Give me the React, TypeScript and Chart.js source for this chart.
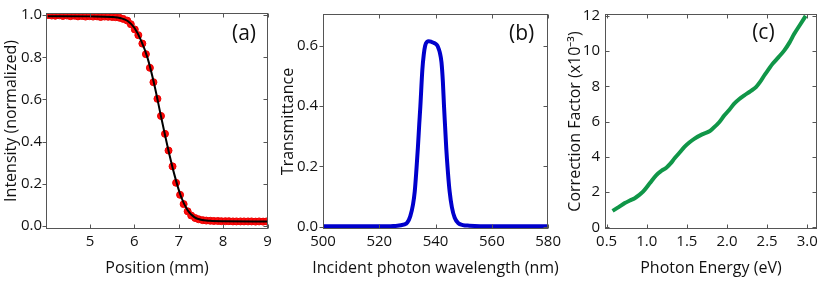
import React, { useEffect, useRef } from 'react';
import { Chart, registerables } from 'chart.js';

Chart.register(...registerables);

// ---------- Panel (a) ----------
const positionMm = [
  4.05, 4.14, 4.22, 4.31, 4.39, 4.48, 4.56, 4.65, 4.73, 4.82, 4.9, 4.99, 5.07, 5.16, 5.24, 5.33,
  5.41, 5.5, 5.58, 5.67, 5.75, 5.84, 5.92, 6.01, 6.09, 6.18, 6.26, 6.35, 6.43, 6.52, 6.6, 6.69,
  6.77, 6.86, 6.94, 7.03, 7.11, 7.2, 7.28, 7.37, 7.45, 7.54, 7.62, 7.71, 7.79, 7.88, 7.96, 8.05,
  8.13, 8.22, 8.3, 8.39, 8.47, 8.56, 8.64, 8.73, 8.81, 8.9, 8.98,
];
const intensity = [
  1.0, 0.998, 0.997, 0.999, 0.996, 0.998, 0.995, 0.997, 0.994, 0.996, 0.993, 0.995, 0.993, 0.994,
  0.991, 0.993, 0.992, 0.991, 0.99, 0.987, 0.982, 0.974, 0.957, 0.932, 0.905, 0.865, 0.815, 0.75,
  0.682, 0.603, 0.522, 0.437, 0.358, 0.283, 0.205, 0.148, 0.104, 0.07, 0.05, 0.038, 0.032, 0.028,
  0.026, 0.025, 0.024, 0.024, 0.023, 0.023, 0.023, 0.022, 0.022, 0.022, 0.022, 0.022, 0.022,
  0.021, 0.022, 0.021, 0.022,
];
const fitPosition = [4.05, 5.0, 5.5, 5.7, 5.85, 6.0, 6.15, 6.3, 6.45, 6.6, 6.75, 6.9, 7.05, 7.2, 7.35, 7.5, 7.7, 8.0, 9.0];
const fitIntensity = [0.995, 0.994, 0.991, 0.985, 0.972, 0.94, 0.88, 0.795, 0.67, 0.52, 0.375, 0.245, 0.14, 0.075, 0.042, 0.03, 0.025, 0.023, 0.022];
const positionTicks = [5, 6, 7, 8, 9];
const intensityTicks = [0, 0.2, 0.4, 0.6, 0.8, 1.0];

// ---------- Panel (b) ----------
const wavelengthNm = [
  500, 510, 520, 525, 529, 530, 531, 532, 532.6, 533.2, 533.7, 534.2, 534.6, 535.3, 535.8, 536.3,
  537, 537.6, 538.5, 539.5, 540.4, 540.9, 541.5, 542.1, 542.6, 543.0, 543.4, 543.8, 544.4, 545.0,
  545.8, 546.8, 548, 549.7, 552, 560, 570, 580,
];
const transmittance = [
  0.002, 0.002, 0.002, 0.003, 0.008, 0.015, 0.035, 0.075, 0.117, 0.19, 0.26, 0.34, 0.4, 0.52, 0.57,
  0.6, 0.613, 0.615, 0.613, 0.609, 0.603, 0.595, 0.578, 0.545, 0.48, 0.4, 0.33, 0.26, 0.18, 0.117,
  0.065, 0.03, 0.013, 0.006, 0.004, 0.002, 0.002, 0.002,
];
const wavelengthTicks = [500, 520, 540, 560, 580];
const transmittanceTicks = [0, 0.2, 0.4, 0.6];

// ---------- Panel (c) ----------
const photonEnergy = [
  0.574, 0.65, 0.727, 0.79, 0.851, 0.9, 0.954, 1.037, 1.12, 1.18, 1.244, 1.3, 1.347, 1.41, 1.47,
  1.53, 1.596, 1.69, 1.782, 1.823, 1.9, 1.968, 2.03, 2.09, 2.15, 2.216, 2.29, 2.361, 2.41, 2.464,
  2.52, 2.567, 2.64, 2.712, 2.78, 2.836, 2.91, 2.98,
];
const correctionFactor = [
  0.94, 1.15, 1.38, 1.53, 1.66, 1.82, 2.03, 2.5, 2.97, 3.2, 3.39, 3.65, 3.92, 4.25, 4.57, 4.82,
  5.04, 5.28, 5.46, 5.61, 5.95, 6.36, 6.68, 7.02, 7.27, 7.49, 7.72, 7.96, 8.24, 8.62, 8.98, 9.28,
  9.65, 10.03, 10.5, 10.97, 11.5, 12.0,
];
const energyTicks = [0.5, 1.0, 1.5, 2.0, 2.5, 3.0];
const correctionTicks = [0, 2, 4, 6, 8, 10, 12];

const FONT = '"Open Sans", sans-serif';
const TEXT = '#111111';
const AXIS = '#555555';
const H = 282;

type PanelCfg = {
  left: number;
  width: number;
  plotLeft: number;
  plotRight: number;
  plotTop: number;
  plotBottom: number;
  xMin: number; xMax: number; yMin: number; yMax: number;
  xTicks: number[]; yTicks: number[];
  xFmt: (v: number) => string; yFmt: (v: number) => string;
  xTitle: string; yTitle: string;
  yTitlePad: number; yLabelPad: number;
  leftTickOut: boolean;
  label: string; labelDx: number; labelDy: number;
  datasets: any[];
};

const pts = (xs: number[], ys: number[]) => xs.map((x, i) => ({ x, y: ys[i] }));

function framePlugin(cfg: PanelCfg) {
  return {
    id: 'frame',
    afterDraw(chart: any) {
      const { ctx, chartArea: a, scales } = chart;
      const xs = scales.x, ys = scales.y;
      const L = Math.round(a.left) + 0.5, R = Math.round(a.right) - 0.5;
      const T = Math.round(a.top) + 0.5, B = Math.round(a.bottom) - 0.5;
      ctx.save();
      ctx.strokeStyle = AXIS;
      ctx.lineWidth = 1;
      ctx.strokeRect(L, T, R - L, B - T);
      ctx.beginPath();
      for (const v of cfg.xTicks) {
        const px = Math.round(xs.getPixelForValue(v)) + 0.5;
        ctx.moveTo(px, B); ctx.lineTo(px, B - 4);
        ctx.moveTo(px, T); ctx.lineTo(px, T + 4);
      }
      for (const v of cfg.yTicks) {
        const py = Math.round(ys.getPixelForValue(v)) + 0.5;
        if (cfg.leftTickOut) { ctx.moveTo(L - 4, py); ctx.lineTo(L, py); }
        else { ctx.moveTo(L, py); ctx.lineTo(L + 4, py); }
        ctx.moveTo(R, py); ctx.lineTo(R - 4, py);
      }
      ctx.stroke();
      ctx.fillStyle = TEXT;
      ctx.textAlign = 'center';
      ctx.textBaseline = 'middle';
      ctx.font = `16px ${FONT}`;
      ctx.fillText(cfg.xTitle, (a.left + a.right) / 2, H - 13.6);
      ctx.font = `21px ${FONT}`;
      ctx.fillText(cfg.label, a.right - cfg.labelDx, a.top + cfg.labelDy);
      ctx.restore();
    },
  };
}

function Panel({ cfg }: { cfg: PanelCfg }) {
  const ref = useRef<HTMLCanvasElement | null>(null);
  useEffect(() => {
    if (!ref.current) return;
    const tickFont = { family: FONT, size: 15, lineHeight: 1.2 };
    const titleFont = { family: FONT, size: 16, lineHeight: 1.2 };
    const chart = new Chart(ref.current, {
      type: 'scatter',
      data: { datasets: cfg.datasets },
      options: {
        responsive: false,
        animation: false,
        devicePixelRatio: 1,
        events: [],
        layout: {
          padding: {
            left: 0,
            top: cfg.plotTop,
            right: cfg.left + cfg.width - cfg.plotRight,
            bottom: 0,
          },
        },
        plugins: { legend: { display: false }, tooltip: { enabled: false } },
        scales: {
          x: {
            type: 'linear',
            min: cfg.xMin,
            max: cfg.xMax,
            afterBuildTicks: (s: any) => { s.ticks = cfg.xTicks.map((v) => ({ value: v })); },
            afterFit: (s: any) => { s.height = H - cfg.plotBottom; },
            grid: { display: false, drawTicks: false },
            border: { display: false },
            ticks: {
              font: tickFont, color: TEXT, padding: 4, maxRotation: 0, autoSkip: false,
              callback: (v: any) => cfg.xFmt(Number(v)),
            },
            title: { display: false },
          },
          y: {
            type: 'linear',
            min: cfg.yMin,
            max: cfg.yMax,
            afterBuildTicks: (s: any) => { s.ticks = cfg.yTicks.map((v) => ({ value: v })); },
            afterFit: (s: any) => { s.width = cfg.plotLeft - cfg.left; },
            grid: { display: false, drawTicks: false },
            border: { display: false },
            ticks: {
              font: tickFont, color: TEXT, padding: cfg.yLabelPad, autoSkip: false,
              callback: (v: any) => cfg.yFmt(Number(v)),
            },
            title: { display: true, text: cfg.yTitle, font: titleFont, color: TEXT, padding: { top: cfg.yTitlePad, bottom: 0 } },
          },
        },
      } as any,
      plugins: [framePlugin(cfg)],
    });
    return () => chart.destroy();
  }, [cfg]);
  return (
    <canvas
      ref={ref}
      width={cfg.width}
      height={H}
      style={{ position: 'absolute', left: cfg.left, top: 0, width: cfg.width, height: H }}
    />
  );
}

const panelA: PanelCfg = {
  left: 0, width: 282, plotLeft: 46, plotRight: 268, plotTop: 13, plotBottom: 229,
  xMin: 4.01, xMax: 9.01, yMin: -0.014, yMax: 1.01,
  xTicks: positionTicks, yTicks: intensityTicks,
  xFmt: (v) => String(v), yFmt: (v) => v.toFixed(1),
  xTitle: 'Position (mm)', yTitle: 'Intensity (normalized)',
  yTitlePad: 1.5, yLabelPad: 4, leftTickOut: true,
  label: '(a)', labelDx: 24, labelDy: 21,
  datasets: [
    {
      data: pts(fitPosition, fitIntensity), showLine: true, borderColor: '#000000', borderWidth: 2,
      pointRadius: 0, cubicInterpolationMode: 'monotone', fill: false,
    },
    {
      data: pts(positionMm, intensity), showLine: false, pointRadius: 3.5,
      backgroundColor: 'rgb(255,10,10)', borderColor: 'rgb(235,0,0)', borderWidth: 1,
    },
  ],
};

const panelB: PanelCfg = {
  left: 270, width: 295, plotLeft: 323, plotRight: 549, plotTop: 12, plotBottom: 229,
  xMin: 500, xMax: 580, yMin: -0.007, yMax: 0.705,
  xTicks: wavelengthTicks, yTicks: transmittanceTicks,
  xFmt: (v) => String(v), yFmt: (v) => v.toFixed(1),
  xTitle: 'Incident photon wavelength (nm)', yTitle: 'Transmittance',
  yTitlePad: 9, yLabelPad: 5, leftTickOut: true,
  label: '(b)', labelDx: 26.5, labelDy: 20.5,
  datasets: [
    {
      data: pts(wavelengthNm, transmittance), showLine: true, borderColor: '#0000cc', borderWidth: 4,
      pointRadius: 0, cubicInterpolationMode: 'monotone', fill: false,
    },
  ],
};

const panelC: PanelCfg = {
  left: 548, width: 274, plotLeft: 605, plotRight: 818, plotTop: 13, plotBottom: 229,
  xMin: 0.48, xMax: 3.12, yMin: -0.09, yMax: 12.11,
  xTicks: energyTicks, yTicks: correctionTicks,
  xFmt: (v) => v.toFixed(1), yFmt: (v) => String(v),
  xTitle: 'Photon Energy (eV)', yTitle: 'Correction Factor (x10\u207B\u00B3)',
  yTitlePad: 17.5, yLabelPad: 5, leftTickOut: false,
  label: '(c)', labelDx: 53.5, labelDy: 19.5,
  datasets: [
    {
      data: pts(photonEnergy, correctionFactor), showLine: true, borderColor: 'rgb(16,150,72)', borderWidth: 4,
      pointRadius: 0, cubicInterpolationMode: 'monotone', fill: false,
    },
  ],
};

export default function App() {
  return (
    <div style={{ position: 'absolute', left: 0, top: 0, width: 822, height: H, background: '#ffffff', overflow: 'hidden' }}>
      <Panel cfg={panelA} />
      <Panel cfg={panelB} />
      <Panel cfg={panelC} />
    </div>
  );
}
